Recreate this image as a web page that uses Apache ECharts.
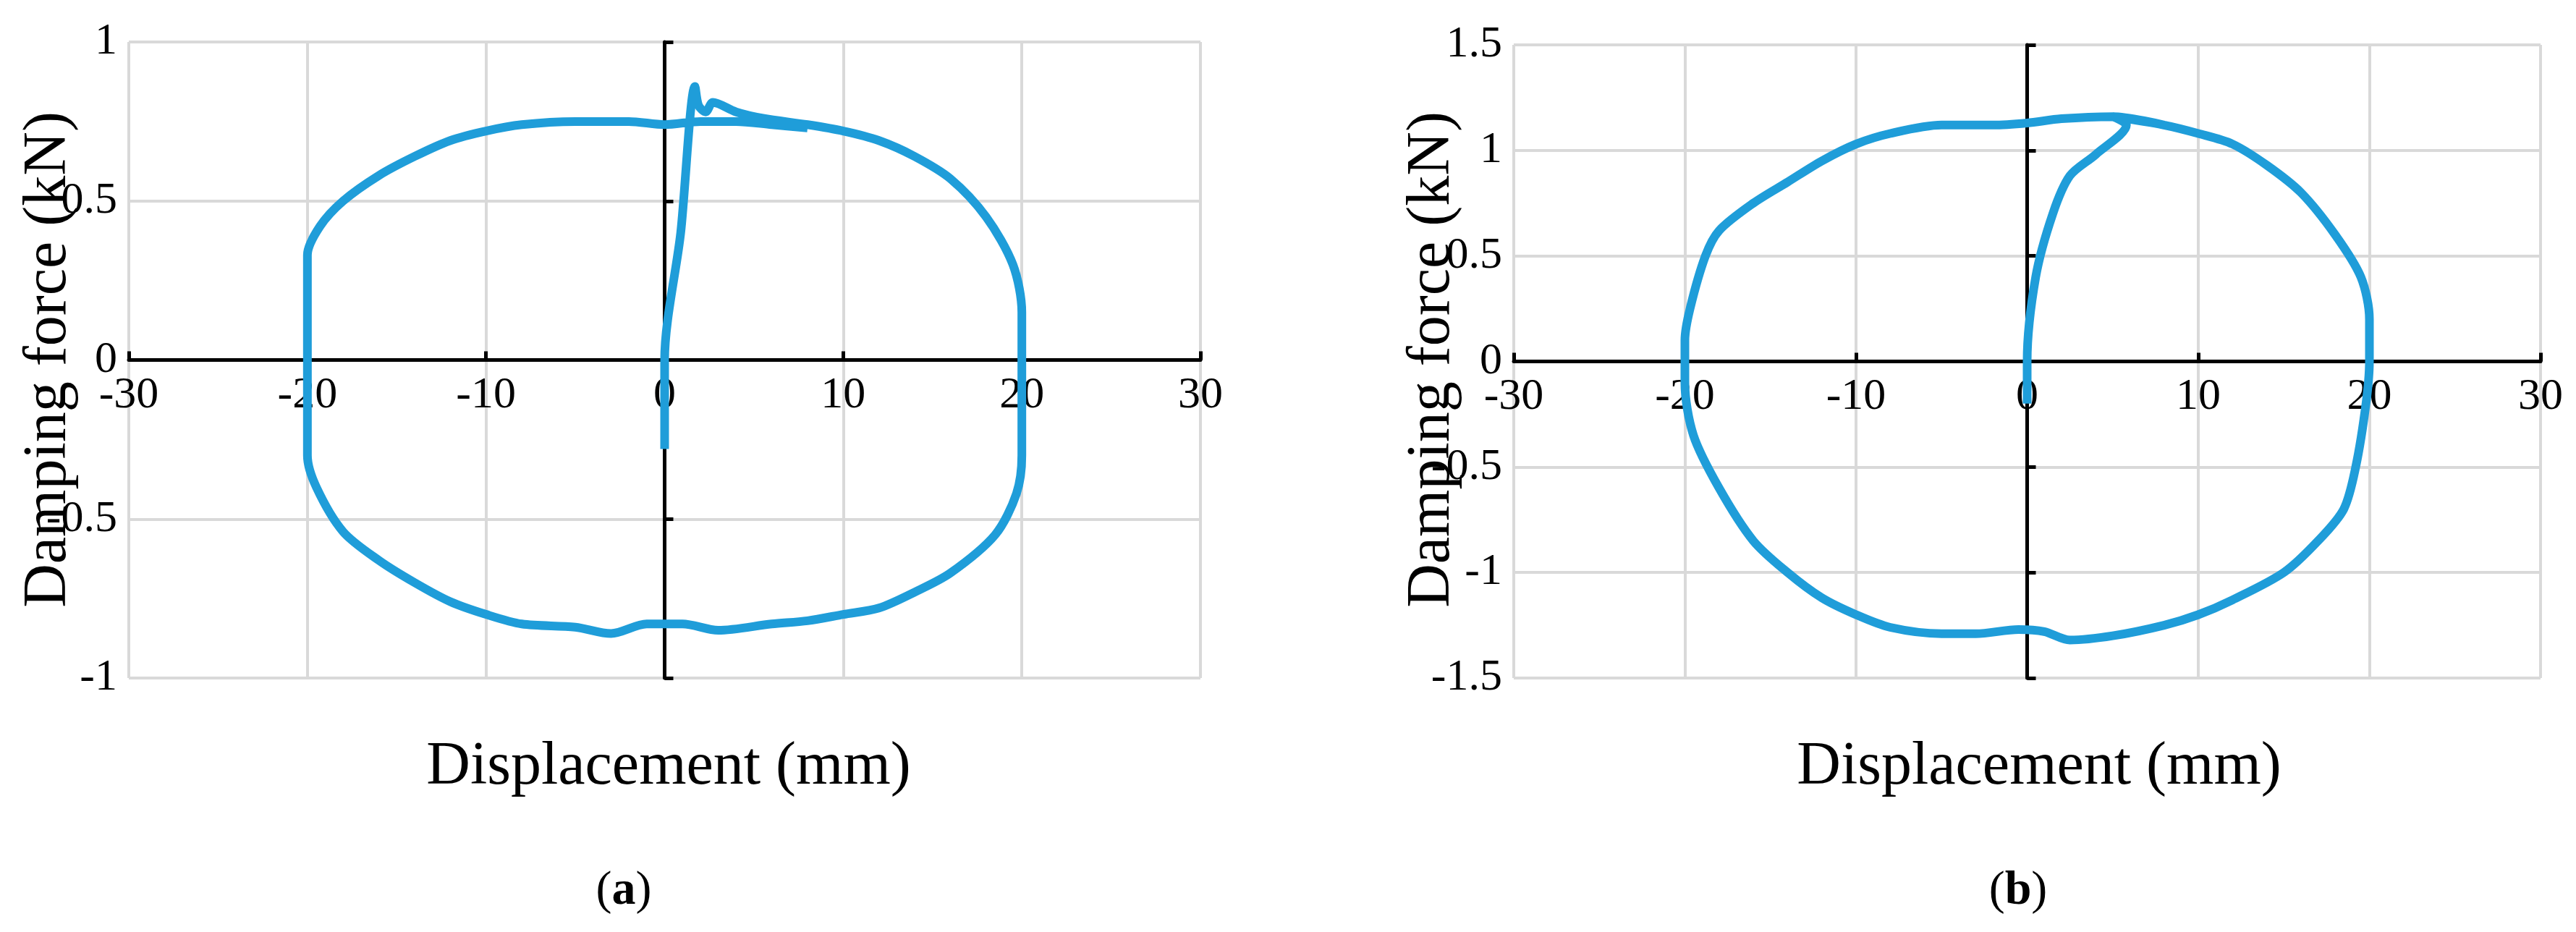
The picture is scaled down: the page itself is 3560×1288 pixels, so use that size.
<!DOCTYPE html>
<html><head><meta charset="utf-8">
<script src="https://cdn.jsdelivr.net/npm/echarts@6/dist/echarts.min.js"></script>
<style>html,body{margin:0;background:#fff}#c{width:3560px;height:1288px}</style>
</head><body><div id="c"></div>
<script>
const xTicks = [-30,-20,-10,0,10,20,30];
const loopA = [[0,-0.28],[0,0],[0.9,0.4],[1.7,0.86],[1.9,0.8],[2.3,0.78],[2.7,0.81],[4,0.78],[5.5,0.76],[8,0.74],[10,0.72],[12,0.69],[14,0.64],[16,0.57],[18,0.45],[19.5,0.3],[20,0.15],[20,-0.1],[20,-0.3],[19.7,-0.42],[18.5,-0.55],[16,-0.67],[14,-0.73],[12,-0.78],[10,-0.8],[8,-0.82],[6,-0.83],[3,-0.85],[1,-0.83],[-1,-0.83],[-3,-0.86],[-5,-0.84],[-8,-0.83],[-10,-0.8],[-12,-0.76],[-14,-0.7],[-16,-0.63],[-18,-0.54],[-19.5,-0.4],[-20,-0.3],[-20,0],[-20,0.33],[-19.3,0.42],[-18,0.5],[-16,0.58],[-14,0.64],[-12,0.69],[-10,0.72],[-8,0.74],[-5,0.75],[-2,0.75],[0,0.74],[2,0.75],[4,0.75],[6,0.74],[8,0.73]];
const loopB = [[0,-0.2],[0,0],[0.5,0.4],[1.5,0.7],[2.5,0.88],[4,0.98],[5.8,1.12],[5,1.16],[8,1.12],[10,1.08],[12,1.03],[14,0.93],[16,0.8],[18,0.6],[19.5,0.4],[20,0.2],[20,0],[19.8,-0.2],[19.2,-0.5],[18.5,-0.7],[17,-0.85],[15,-1.0],[12,-1.13],[10,-1.2],[8,-1.25],[5,-1.3],[2.5,-1.32],[1,-1.28],[-0.5,-1.27],[-3,-1.29],[-5,-1.29],[-8,-1.26],[-10,-1.2],[-12,-1.12],[-14,-1.0],[-16,-0.85],[-18,-0.6],[-19.5,-0.35],[-20,-0.1],[-20,0.1],[-19.7,0.25],[-18.8,0.5],[-18,0.62],[-16,0.75],[-14,0.85],[-12,0.95],[-10,1.03],[-8,1.08],[-5,1.12],[-2,1.12],[0,1.13],[2,1.15],[5,1.16],[8,1.12]];
const F = 'Liberation Serif';
const grid = '#d9d9d9';
const H = [879, 875];
function xa(i){return {type:'value',gridIndex:i,min:-30,max:30,interval:10,position:'bottom',offset:-H[i]/2,
  axisLine:{onZero:false,lineStyle:{color:'#000',width:5}},axisTick:{inside:true,length:12,lineStyle:{width:5,color:'#000'}},
  axisLabel:{fontFamily:F,fontSize:62,color:'#000',margin:18},splitLine:{lineStyle:{color:grid,width:4}}};}
function ya(i,m,step){return {type:'value',gridIndex:i,min:-m,max:m,interval:step,
  axisLine:{onZero:true,lineStyle:{color:'#000',width:5}},axisTick:{inside:true,length:12,lineStyle:{width:5,color:'#000'}},
  axisLabel:{fontFamily:F,fontSize:62,color:'#000',margin:16},splitLine:{lineStyle:{color:grid,width:4}}};}
const chart = echarts.init(document.getElementById('c'));
const T = (t,x,y,rot)=>({type:'text',x:x,y:y,rotation:rot||0,style:{text:t,fontFamily:F,fontSize:84,fill:'#000',align:'center',verticalAlign:'middle'}});
const L = (t,x,y)=>({type:'text',x:x,y:y,style:{text:'({b|'+t+'})',fontFamily:F,fontSize:66,fill:'#000',align:'center',verticalAlign:'middle',rich:{b:{fontFamily:F,fontSize:66,fontWeight:'bold',fill:'#000'}}}});
chart.setOption({
  animation:false,
  grid:[{left:178,top:58,width:1481,height:H[0]},{left:2092,top:62,width:1419,height:H[1]}],
  xAxis:[xa(0),xa(1)],
  yAxis:[ya(0,1,0.5),ya(1,1.5,0.5)],
  series:[
    {type:'line',xAxisIndex:0,yAxisIndex:0,data:loopA,showSymbol:false,smooth:0.3,lineStyle:{color:'#1f9dd9',width:12}},
    {type:'line',xAxisIndex:1,yAxisIndex:1,data:loopB,showSymbol:false,smooth:0.3,lineStyle:{color:'#1f9dd9',width:12}}
  ],
  graphic:[
    T('Damping force (kN)',68,497,Math.PI/2),
    T('Damping force (kN)',1980,497,Math.PI/2),
    T('Displacement (mm)',924,1061),
    T('Displacement (mm)',2818,1061),
    L('a',862,1232),
    L('b',2789,1232)
  ]
});
</script></body></html>
